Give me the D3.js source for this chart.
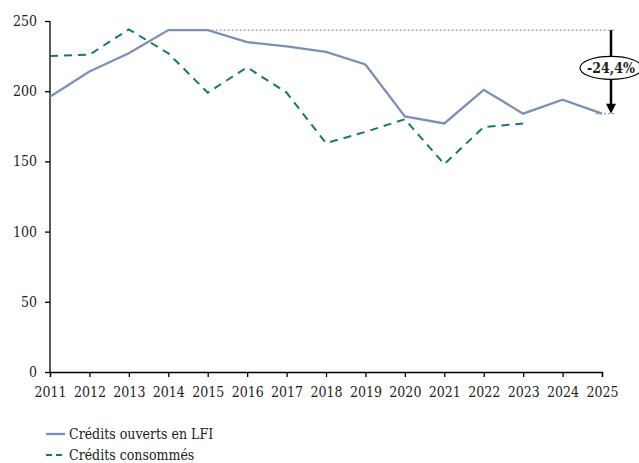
<!DOCTYPE html>
<html>
<head>
<meta charset="utf-8">
<script src="https://cdn.jsdelivr.net/npm/d3@7"></script>
<style>
  body { margin: 0; background: #fff; }
  svg text { font-family: "DejaVu Serif", serif !important; font-stretch: condensed; fill: #222; }
</style>
</head>
<body>
<div id="chart"></div>
<script>
// data
const years = [2011, 2012, 2013, 2014, 2015, 2016, 2017, 2018, 2019, 2020, 2021, 2022, 2023, 2024, 2025]
const lfi = [196, 214, 227, 243.5, 243.5, 235, 232, 228, 219, 182, 177, 201, 184, 194, 184]
const consommes = [225, 226, 244, 227, 199, 217, 199, 163, 171, 180, 148, 174.5, 177]
const yTicks = [0, 50, 100, 150, 200, 250]
const seriesNames = ["Crédits ouverts en LFI", "Crédits consommés"]
const evolutionLabel = "-24,4%"

const width = 639, height = 463
const margin = { top: 21, left: 50, right: 37, bottom: 91 }
const serif = '"DejaVu Serif", serif'

const svg = d3.select("#chart").append("svg")
    .attr("width", width).attr("height", height)
    .attr("font-family", serif)

const x = d3.scaleLinear().domain([2011, 2025]).range([margin.left, width - margin.right])
const y = d3.scaleLinear().domain([0, 250]).range([height - margin.bottom, margin.top])

// axes
const yAxis = svg.append("g")
    .attr("transform", `translate(${margin.left},0)`)
    .call(d3.axisLeft(y).tickValues(yTicks).tickSize(5).tickPadding(8))
const xAxis = svg.append("g")
    .attr("transform", `translate(0,${y(0)})`)
    .call(d3.axisBottom(x).tickValues(years).tickFormat(d3.format("d")).tickSize(5).tickPadding(10))
for (let ax of [xAxis, yAxis]) {
    ax.attr("font-family", serif)
    ax.select(".domain").attr("stroke", "#000").attr("stroke-width", 1.3)
    ax.selectAll(".tick line").attr("stroke", "#000").attr("stroke-width", 1.3)
    ax.selectAll("text").attr("font-size", 14).attr("fill", "#222")
}
yAxis.select(".domain").attr("d", `M0,${y(0)}V${y(250)}`)

// reference line at the max LFI
const maxVal = d3.max(lfi)
svg.append("line")
    .attr("x1", x(2015)).attr("x2", x(2025) + 13)
    .attr("y1", y(maxVal)).attr("y2", y(maxVal))
    .attr("stroke", "#666").attr("stroke-width", 0.8).attr("stroke-dasharray", "2,2")
svg.append("line")
    .attr("x1", x(2025) - 6).attr("x2", x(2025) + 14)
    .attr("y1", y(lfi[lfi.length - 1])).attr("y2", y(lfi[lfi.length - 1]))
    .attr("stroke", "#666").attr("stroke-width", 0.8).attr("stroke-dasharray", "2,2")

const line = d3.line().x((d, i) => x(years[i])).y(d => y(d))

svg.append("path").datum(lfi)
    .attr("d", line).attr("fill", "none")
    .attr("stroke", "#7a90b6").attr("stroke-width", 2.3)
svg.append("path").datum(consommes)
    .attr("d", line).attr("fill", "none")
    .attr("stroke", "#137a6d").attr("stroke-width", 2).attr("stroke-dasharray", "8,6")

// arrow with evolution label
const ax0 = x(2025) + 9
const yTop = y(maxVal), yBot = y(lfi[lfi.length - 1])
svg.append("line")
    .attr("x1", ax0).attr("x2", ax0).attr("y1", yTop).attr("y2", yBot - 8)
    .attr("stroke", "#000").attr("stroke-width", 2.5)
svg.append("path")
    .attr("d", `M${ax0 - 5},${yBot - 10}L${ax0 + 5},${yBot - 10}L${ax0},${yBot}Z`)
    .attr("fill", "#000")
const midY = (yTop + yBot) / 2 - 4
svg.append("ellipse")
    .attr("cx", ax0).attr("cy", midY).attr("rx", 31).attr("ry", 11.5)
    .attr("fill", "#fff").attr("stroke", "#000").attr("stroke-width", 1.2)
svg.append("text")
    .attr("x", ax0).attr("y", midY + 5)
    .attr("text-anchor", "middle").attr("font-size", 14).attr("font-weight", "bold")
    .text(evolutionLabel)

// legend
const legend = svg.append("g").attr("transform", "translate(46,434)")
seriesNames.forEach((name, i) => {
    let g = legend.append("g").attr("transform", `translate(0,${i * 21})`)
    g.append("line").attr("x1", 0).attr("x2", 19).attr("y1", 0).attr("y2", 0)
        .attr("stroke", i === 0 ? "#7a90b6" : "#137a6d")
        .attr("stroke-width", i === 0 ? 2.3 : 2)
        .attr("stroke-dasharray", i === 0 ? null : "6,4")
    g.append("text").attr("x", 23).attr("y", 5).attr("font-size", 14).text(name)
})
</script>
</body>
</html>
